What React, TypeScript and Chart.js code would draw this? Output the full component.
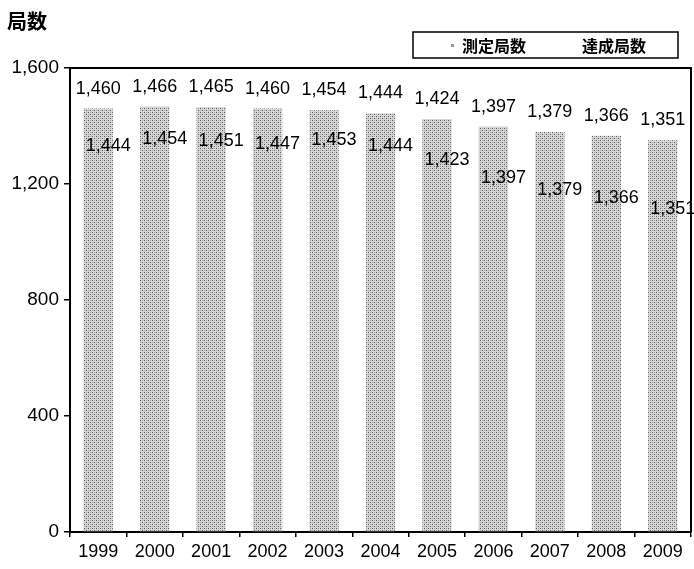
import React, { useEffect, useRef } from "react";
import { Chart, registerables } from "chart.js";

Chart.register(...registerables);

const years = ["1999", "2000", "2001", "2002", "2003", "2004", "2005", "2006", "2007", "2008", "2009"];
const measured = [1460, 1466, 1465, 1460, 1454, 1444, 1424, 1397, 1379, 1366, 1351];
const achieved = [1444, 1454, 1451, 1447, 1453, 1444, 1423, 1397, 1379, 1366, 1351];
const yTickValues = [0, 400, 800, 1200, 1600];
const seriesNames = ["測定局数", "達成局数"];
const yTitle = "局数";
// hidden secondary axis used by the achieved series (as in the source chart)
const achievedAxisMin = 870;
const achievedAxisMax = 1560;

const fmt = (v: number) => v.toLocaleString("en-US");
const LATIN = "'Liberation Sans', Arial, sans-serif";
const CJK = "'Noto Sans CJK JP', 'Noto Sans', sans-serif";

function makeStipple(): CanvasPattern | string {
  const c = document.createElement("canvas");
  c.width = 4;
  c.height = 4;
  const g = c.getContext("2d");
  if (!g) return "#c2c2c2";
  g.fillStyle = "#d6d6d6";
  g.fillRect(0, 0, 4, 4);
  g.fillStyle = "#5a5a5a";
  g.fillRect(0, 0, 1, 1);
  g.fillRect(2, 2, 1, 1);
  g.fillStyle = "#a8a8a8";
  g.fillRect(2, 0, 1, 1);
  g.fillRect(0, 2, 1, 1);
  const p = g.createPattern(c, "repeat");
  return p || "#c2c2c2";
}

const decorPlugin = {
  id: "decor",
  afterDraw(chart: any) {
    const ctx = chart.ctx;
    const ca = chart.chartArea;
    ctx.save();
    // plot border (top & right)
    ctx.strokeStyle = "#000";
    ctx.lineWidth = 2;
    ctx.beginPath();
    ctx.moveTo(ca.left, ca.top);
    ctx.lineTo(ca.right, ca.top);
    ctx.lineTo(ca.right, ca.bottom);
    ctx.stroke();

    // title
    ctx.fillStyle = "#000";
    ctx.font = `bold 20px ${CJK}`;
    ctx.textAlign = "left";
    ctx.textBaseline = "middle";
    ctx.fillText(yTitle, 7, 21);

    // legend
    ctx.lineWidth = 1.5;
    ctx.strokeRect(413, 32, 265, 26);
    ctx.fillStyle = "#999";
    ctx.fillRect(451, 44, 3, 3);
    ctx.fillStyle = "#000";
    ctx.font = `bold 16px ${CJK}`;
    ctx.fillText(seriesNames[0], 462, 46);
    ctx.fillText(seriesNames[1], 582, 46);

    // data labels
    ctx.font = `18px ${LATIN}`;
    ctx.textAlign = "center";
    ctx.textBaseline = "middle";
    const m0 = chart.getDatasetMeta(0);
    m0.data.forEach((bar: any, i: number) => {
      ctx.fillText(fmt(measured[i]), bar.x, bar.y - 20);
    });
    const m1 = chart.getDatasetMeta(1);
    m1.data.forEach((bar: any, i: number) => {
      ctx.fillText(fmt(achieved[i]), bar.x + 10, bar.y);
    });
    ctx.restore();
  },
};

export default function App() {
  const ref = useRef<HTMLCanvasElement>(null);
  useEffect(() => {
    const chart = new Chart(ref.current as HTMLCanvasElement, {
      type: "bar",
      data: {
        labels: years,
        datasets: [
          {
            label: seriesNames[0],
            data: measured,
            backgroundColor: makeStipple(),
            yAxisID: "y",
            grouped: false,
            categoryPercentage: 1,
            barPercentage: 0.52,
          } as any,
          {
            label: seriesNames[1],
            data: achieved,
            backgroundColor: "rgba(0,0,0,0)",
            yAxisID: "y2",
            grouped: false,
            categoryPercentage: 1,
            barPercentage: 0.52,
          } as any,
        ],
      },
      options: {
        animation: false,
        responsive: true,
        maintainAspectRatio: false,
        layout: { padding: { top: 68, right: 3, left: 0, bottom: 0 } },
        plugins: {
          legend: { display: false },
          title: { display: false },
          tooltip: { enabled: false },
        },
        scales: {
          x: {
            grid: {
              display: true,
              drawOnChartArea: false,
              offset: true,
              tickLength: 5,
              color: "#000",
              lineWidth: 1.5,
            },
            border: { display: true, color: "#000", width: 2 },
            ticks: {
              color: "#000",
              font: { family: LATIN, size: 18 },
              padding: 4,
              maxRotation: 0,
            },
            afterFit(scale: any) {
              scale.height = 37;
            },
          },
          y: {
            min: 0,
            max: 1600,
            afterBuildTicks(scale: any) {
              scale.ticks = yTickValues.map((v) => ({ value: v }));
            },
            grid: {
              display: true,
              drawOnChartArea: false,
              tickLength: 6,
              color: "#000",
              lineWidth: 1.5,
            },
            border: { display: true, color: "#000", width: 2 },
            ticks: {
              color: "#000",
              font: { family: LATIN, size: 19 },
              padding: 5,
              callback: (v: any) => fmt(Number(v)),
            },
            afterFit(scale: any) {
              scale.width = 70;
            },
          },
          y2: {
            display: false,
            min: achievedAxisMin,
            max: achievedAxisMax,
          },
        },
      },
      plugins: [decorPlugin],
    });
    return () => chart.destroy();
  }, []);
  return (
    <div style={{ position: "absolute", left: 0, top: 0, width: 694, height: 569 }}>
      <canvas ref={ref} />
    </div>
  );
}
